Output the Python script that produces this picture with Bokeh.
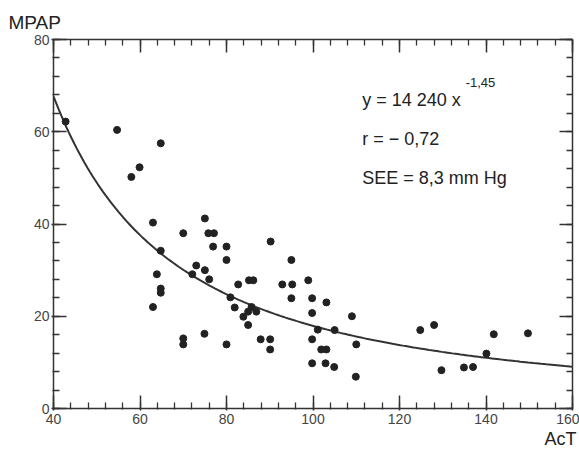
import numpy as np
from bokeh.plotting import figure
from bokeh.models import Range1d, LinearAxis, SingleIntervalTicker, Label, Title
from bokeh.embed import file_html
from bokeh.resources import INLINE

# Acceleration time (AcT, ms) and mean pulmonary artery pressure (MPAP, mmHg)
act = [42.8, 54.7, 64.8, 59.9, 58.0, 63.0, 75.0, 70.0, 75.8, 77.1,
       76.9, 80.0, 80.0, 64.8, 73.0, 75.0, 72.1, 76.0, 63.9, 64.8,
       64.8, 82.7, 85.2, 86.2, 92.9, 95.2, 98.9, 90.2, 95.0, 95.0,
       99.8, 103.1, 80.9, 63.0, 81.9, 85.8, 85.0, 86.9, 83.9, 85.0,
       99.8, 109.0, 101.1, 105.0, 74.9, 70.0, 70.0, 80.0, 87.9, 90.1,
       90.1, 99.8, 110.0, 101.9, 103.1, 99.8, 102.9, 104.9, 109.9, 124.8,
       128.0, 129.7, 134.9, 137.0, 140.1, 141.8, 149.7]
mpap = [62.2, 60.4, 57.5, 52.3, 50.2, 40.3, 41.2, 38.0, 38.0, 38.0,
        35.1, 35.1, 32.2, 34.2, 31.0, 30.0, 29.1, 28.0, 29.1, 26.0,
        25.1, 26.9, 27.8, 27.8, 26.9, 26.9, 27.8, 36.2, 32.2, 23.9,
        23.9, 23.0, 24.1, 22.0, 21.9, 22.0, 21.0, 21.0, 19.9, 18.1,
        20.7, 20.0, 17.1, 17.0, 16.2, 15.2, 13.9, 13.9, 15.0, 15.0,
        12.8, 15.0, 13.9, 12.8, 12.8, 9.8, 9.8, 9.0, 6.9, 17.0,
        18.1, 8.3, 8.9, 9.0, 11.9, 16.1, 16.3]

# fitted power curve stated on the chart: y = 14 240 x^-1.45
fit_a = 14240
fit_b = -1.45

x_range = (40, 160)
y_range = (0, 80)
tick_interval = 20
x_ticks = [40, 60, 80, 100, 120, 140, 160]
y_ticks = [0, 20, 40, 60, 80]

fit_x = np.linspace(x_range[0], x_range[1], 200)
fit_y = fit_a * fit_x ** fit_b

INK = "#222222"
AX = "#333333"
FONT = "Liberation Sans"

p = figure(width=579, height=450, output_backend="svg", toolbar_location=None,
           x_range=Range1d(*x_range), y_range=Range1d(*y_range),
           min_border_left=53, min_border_right=7, min_border_top=39,
           min_border_bottom=42, background_fill_color="white",
           border_fill_color="white")
p.outline_line_color = None
p.xgrid.visible = False
p.ygrid.visible = False


def style_axis(ax, blank_ticks=None):
    ax.ticker = SingleIntervalTicker(interval=tick_interval, num_minor_ticks=5)
    ax.axis_line_color = AX
    ax.axis_line_width = 1.5
    ax.major_tick_line_color = AX
    ax.major_tick_line_width = 1.5
    ax.minor_tick_line_color = AX
    ax.minor_tick_line_width = 1.3
    ax.major_tick_in = 13
    ax.minor_tick_in = 6
    if blank_ticks is None:
        ax.major_tick_out = 2
        ax.minor_tick_out = 1
        ax.major_label_standoff = 3
        ax.major_label_text_font = FONT
        ax.major_label_text_font_size = "14px"
        ax.major_label_text_color = "#444444"
    else:
        ax.major_tick_out = 0
        ax.minor_tick_out = 0
        ax.major_label_standoff = 0
        ax.major_label_text_font_size = "1px"
        ax.major_label_overrides = {t: "" for t in blank_ticks}


style_axis(p.xaxis[0])
style_axis(p.yaxis[0])
p.yaxis[0].major_label_standoff = 2

top = LinearAxis()
style_axis(top, blank_ticks=x_ticks)
p.add_layout(top, "above")
right = LinearAxis()
style_axis(right, blank_ticks=y_ticks)
p.add_layout(right, "right")

p.line(fit_x, fit_y, line_width=2, color=AX)
p.scatter(act, mpap, size=7, color=INK)

p.add_layout(Title(text="MPAP", align="left", offset=-45, standoff=14,
                   text_font=FONT, text_font_size="19px",
                   text_font_style="normal", text_color=INK), "above")
p.add_layout(Title(text="AcT", align="right", offset=-4, standoff=0,
                   text_font=FONT, text_font_size="18px",
                   text_font_style="normal", text_color=INK), "below")

p.add_layout(Label(x=111.4, y=66.8, text="y = 14 240 x", text_font=FONT,
                   text_font_size="18px", text_baseline="alphabetic",
                   text_color=INK))
p.add_layout(Label(x=135.3, y=70.6, text="-1,45", text_font=FONT,
                   text_font_size="13px", text_baseline="alphabetic",
                   text_color=INK))
p.add_layout(Label(x=111.4, y=58.5, text="r = \u2212 0,72", text_font=FONT,
                   text_font_size="18px", text_baseline="alphabetic",
                   text_color=INK))
p.add_layout(Label(x=111.4, y=49.9, text="SEE = 8,3 mm Hg", text_font=FONT,
                   text_font_size="18px", text_baseline="alphabetic",
                   text_color=INK))

open("out.html", "w").write(file_html(p, INLINE))
